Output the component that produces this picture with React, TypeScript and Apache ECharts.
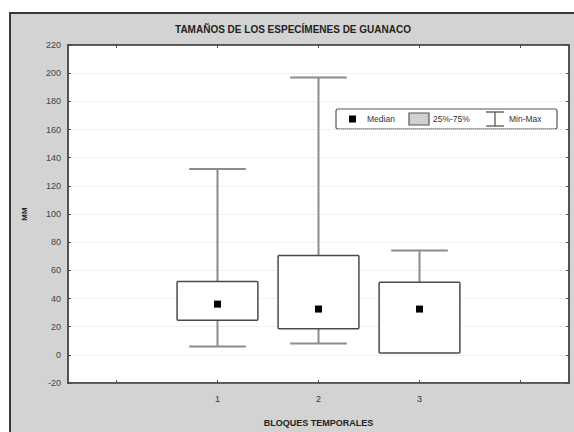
import React, { useEffect, useRef } from "react";
import * as echarts from "echarts";

const categories = [1, 2, 3];
const minVals = [6, 8, 1.3];
const q1Vals = [24.5, 18.5, 1.3];
const medianVals = [36, 32.5, 32.5];
const q3Vals = [52, 70.5, 51.5];
const maxVals = [132, 197, 74];
const xTicks = [0, 1, 2, 3, 4];
const xLabels = [1, 2, 3];

const TITLE = "TAMAÑOS DE LOS ESPECÍMENES DE GUANACO";
const FONT = "Liberation Sans, Arial, sans-serif";

export default function App() {
  const ref = useRef<HTMLDivElement>(null);
  useEffect(() => {
    if (!ref.current) return;
    const chart = echarts.init(ref.current, null, { renderer: "svg" });
    const data = categories.map((c, i) => [c, minVals[i], q1Vals[i], medianVals[i], q3Vals[i], maxVals[i]]);
    const dark = "#4a4a4a";
    const whisk = "#8c8c8c";
    const option: any = {
      animation: false,
      backgroundColor: "transparent",
      textStyle: { fontFamily: FONT },
      graphic: [
        {
          type: "rect",
          z: -10,
          silent: true,
          shape: { x: 10, y: 13, width: 600, height: 450 },
          style: { fill: "#d3d3d3", stroke: "#3a3a3a", lineWidth: 2 },
        },
        {
          type: "text",
          x: 293,
          y: 29,
          style: {
            text: TITLE,
            fill: "#222",
            font: "bold 10px " + FONT,
            align: "center",
            verticalAlign: "middle",
          },
        },
        {
          type: "group",
          z: 100,
          children: [
            {
              type: "rect",
              shape: { x: 336, y: 109, width: 221, height: 20, r: 2 },
              style: { fill: "#fff", stroke: "#555", lineWidth: 1.2 },
            },
            { type: "rect", shape: { x: 349, y: 115.5, width: 7, height: 7 }, style: { fill: "#000" } },
            {
              type: "text",
              x: 367,
              y: 119,
              style: { text: "Median", fill: "#333", font: "8.5px " + FONT, verticalAlign: "middle" },
            },
            {
              type: "rect",
              shape: { x: 409, y: 113, width: 20, height: 12 },
              style: { fill: "#d0d0d0", stroke: "#555", lineWidth: 1.2 },
            },
            {
              type: "text",
              x: 433,
              y: 119,
              style: { text: "25%-75%", fill: "#333", font: "8.5px " + FONT, verticalAlign: "middle" },
            },
            { type: "line", shape: { x1: 486, y1: 112, x2: 504, y2: 112 }, style: { stroke: whisk, lineWidth: 2 } },
            { type: "line", shape: { x1: 495, y1: 112, x2: 495, y2: 126 }, style: { stroke: dark, lineWidth: 1.2 } },
            { type: "line", shape: { x1: 486, y1: 126, x2: 504, y2: 126 }, style: { stroke: dark, lineWidth: 1.2 } },
            {
              type: "text",
              x: 509,
              y: 119,
              style: { text: "Min-Max", fill: "#333", font: "8.5px " + FONT, verticalAlign: "middle" },
            },
          ],
        },
      ],
      grid: {
        left: 68,
        right: 5,
        top: 45,
        bottom: 45,
        show: true,
        backgroundColor: "#fff",
        borderColor: dark,
        borderWidth: 1.5,
      },
      xAxis: [
        {
          type: "value",
          min: -0.48,
          max: 4.48,
          position: "bottom",
          name: "BLOQUES TEMPORALES",
          nameLocation: "middle",
          nameGap: 35,
          nameTextStyle: { color: "#222", fontSize: 9, fontWeight: "bold", fontFamily: FONT },
          axisLine: { show: true, onZero: false, lineStyle: { color: dark, width: 1.5 } },
          axisTick: { show: true, inside: true, length: 3, customValues: xTicks, lineStyle: { color: dark } },
          axisLabel: {
            customValues: xLabels,
            color: "#333",
            fontSize: 9,
            margin: 11,
            fontFamily: FONT,
          },
          splitLine: { show: false },
        },
        {
          type: "value",
          min: -0.48,
          max: 4.48,
          position: "top",
          axisLine: { show: true, onZero: false, lineStyle: { color: dark, width: 1.5 } },
          axisTick: { show: true, inside: true, length: 3, customValues: xTicks, lineStyle: { color: dark } },
          axisLabel: { show: false },
          splitLine: { show: false },
        },
      ],
      yAxis: [
        {
          type: "value",
          min: -20,
          max: 220,
          interval: 20,
          name: "MM",
          nameLocation: "middle",
          nameGap: 40,
          nameTextStyle: { color: "#222", fontSize: 8, fontWeight: "bold", fontFamily: FONT },
          axisLine: { show: true, onZero: false, lineStyle: { color: dark, width: 1.5 } },
          axisTick: { show: true, inside: true, length: 3, lineStyle: { color: dark } },
          axisLabel: { color: "#444", fontSize: 9, margin: 7, fontFamily: FONT },
          splitLine: { show: true, lineStyle: { color: "#e2e2e2", type: "dotted", width: 1 } },
        },
        {
          type: "value",
          min: -20,
          max: 220,
          interval: 20,
          position: "right",
          axisLine: { show: true, onZero: false, lineStyle: { color: dark, width: 1.5 } },
          axisTick: { show: true, inside: true, length: 3, lineStyle: { color: dark } },
          axisLabel: { show: false },
          splitLine: { show: false },
        },
      ],
      series: [
        {
          type: "custom",
          xAxisIndex: 0,
          yAxisIndex: 0,
          data,
          encode: { x: 0, y: [1, 2, 3, 4, 5] },
          renderItem: (params: any, api: any) => {
            const x = api.value(0);
            const pMin = api.coord([x, api.value(1)]);
            const pQ1 = api.coord([x, api.value(2)]);
            const pMed = api.coord([x, api.value(3)]);
            const pQ3 = api.coord([x, api.value(4)]);
            const pMax = api.coord([x, api.value(5)]);
            const boxHalf = api.size([0.8, 0])[0] / 2;
            const capHalf = api.size([0.56, 0])[0] / 2;
            const cx = pMed[0];
            const children: any[] = [];
            if (api.value(5) > api.value(4)) {
              children.push({
                type: "line",
                shape: { x1: cx, y1: pMax[1], x2: cx, y2: pQ3[1] },
                style: { stroke: whisk, lineWidth: 2 },
              });
              children.push({
                type: "line",
                shape: { x1: cx - capHalf, y1: pMax[1], x2: cx + capHalf, y2: pMax[1] },
                style: { stroke: whisk, lineWidth: 2 },
              });
            }
            if (api.value(1) < api.value(2)) {
              children.push({
                type: "line",
                shape: { x1: cx, y1: pQ1[1], x2: cx, y2: pMin[1] },
                style: { stroke: whisk, lineWidth: 2 },
              });
              children.push({
                type: "line",
                shape: { x1: cx - capHalf, y1: pMin[1], x2: cx + capHalf, y2: pMin[1] },
                style: { stroke: whisk, lineWidth: 2 },
              });
            }
            children.push({
              type: "rect",
              shape: { x: cx - boxHalf, y: pQ3[1], width: boxHalf * 2, height: pQ1[1] - pQ3[1], r: 1 },
              style: { fill: "#fff", stroke: dark, lineWidth: 1.5 },
            });
            children.push({
              type: "rect",
              shape: { x: cx - 3.5, y: pMed[1] - 3.5, width: 7, height: 7 },
              style: { fill: "#000" },
            });
            return { type: "group", children };
          },
        },
      ],
    };
    chart.setOption(option);
    return () => chart.dispose();
  }, []);
  return (
    <div
      ref={ref}
      style={{ position: "fixed", left: 0, top: 0, width: 574, height: 432, background: "#fff" }}
    />
  );
}
